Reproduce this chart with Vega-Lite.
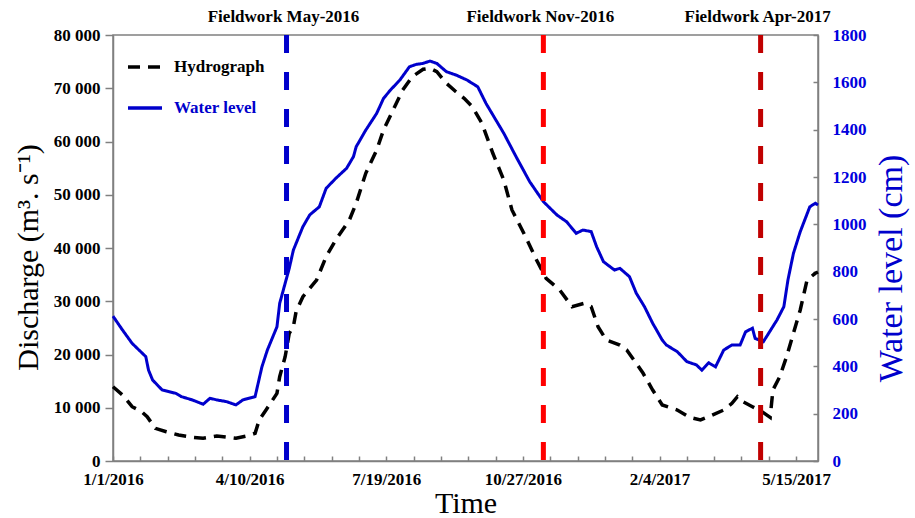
{
  "$schema": "https://vega.github.io/schema/vega-lite/v6.json",
  "width": 705,
  "height": 426,
  "autosize": "none",
  "padding": {"left": 113, "top": 35, "right": 97, "bottom": 57},
  "background": "white",
  "config": {
    "font": "Liberation Serif",
    "view": {"stroke": "#808080", "strokeWidth": 1.5},
    "axis": {"grid": false}
  },
  "datasets": {
    "discharge": [
      {"date": "2016-01-01", "q": 13950}, {"date": "2016-01-08", "q": 12400}, {"date": "2016-01-15", "q": 10200},
      {"date": "2016-01-22", "q": 9260}, {"date": "2016-01-26", "q": 8320}, {"date": "2016-02-01", "q": 6140},
      {"date": "2016-02-09", "q": 5500}, {"date": "2016-02-18", "q": 4880}, {"date": "2016-02-28", "q": 4450},
      {"date": "2016-03-07", "q": 4260}, {"date": "2016-03-17", "q": 4700}, {"date": "2016-03-31", "q": 4260},
      {"date": "2016-04-08", "q": 4700}, {"date": "2016-04-14", "q": 5200}, {"date": "2016-04-17", "q": 7700},
      {"date": "2016-04-22", "q": 9580}, {"date": "2016-04-30", "q": 12700}, {"date": "2016-05-02", "q": 15830},
      {"date": "2016-05-06", "q": 19590}, {"date": "2016-05-09", "q": 23980}, {"date": "2016-05-12", "q": 25220},
      {"date": "2016-05-14", "q": 28040}, {"date": "2016-05-19", "q": 30860}, {"date": "2016-05-29", "q": 33990},
      {"date": "2016-06-05", "q": 38370}, {"date": "2016-06-12", "q": 41500}, {"date": "2016-06-22", "q": 45260},
      {"date": "2016-06-27", "q": 48400}, {"date": "2016-07-04", "q": 54030}, {"date": "2016-07-12", "q": 58410},
      {"date": "2016-07-17", "q": 62160}, {"date": "2016-07-24", "q": 65920}, {"date": "2016-07-31", "q": 69670},
      {"date": "2016-08-07", "q": 72170}, {"date": "2016-08-15", "q": 73560}, {"date": "2016-08-20", "q": 73750},
      {"date": "2016-08-25", "q": 73110}, {"date": "2016-09-01", "q": 70930}, {"date": "2016-09-08", "q": 69350},
      {"date": "2016-09-14", "q": 68110}, {"date": "2016-09-20", "q": 66540}, {"date": "2016-09-27", "q": 63420},
      {"date": "2016-10-05", "q": 57790}, {"date": "2016-10-13", "q": 52770}, {"date": "2016-10-19", "q": 47140},
      {"date": "2016-10-29", "q": 42120}, {"date": "2016-11-06", "q": 37750}, {"date": "2016-11-13", "q": 34310},
      {"date": "2016-11-23", "q": 32110}, {"date": "2016-12-02", "q": 28980}, {"date": "2016-12-11", "q": 29620},
      {"date": "2016-12-16", "q": 28980}, {"date": "2016-12-21", "q": 25220}, {"date": "2016-12-27", "q": 22720},
      {"date": "2017-01-06", "q": 21780}, {"date": "2017-01-11", "q": 20850}, {"date": "2017-01-18", "q": 18350},
      {"date": "2017-01-23", "q": 16470}, {"date": "2017-01-30", "q": 13330}, {"date": "2017-02-06", "q": 10520},
      {"date": "2017-02-17", "q": 9580}, {"date": "2017-02-26", "q": 8200}, {"date": "2017-03-06", "q": 7700},
      {"date": "2017-03-12", "q": 8320}, {"date": "2017-03-23", "q": 9580}, {"date": "2017-03-29", "q": 10830},
      {"date": "2017-04-02", "q": 12080}, {"date": "2017-04-06", "q": 11140}, {"date": "2017-04-13", "q": 10200},
      {"date": "2017-04-20", "q": 9260}, {"date": "2017-04-26", "q": 8200}, {"date": "2017-04-28", "q": 13330},
      {"date": "2017-05-03", "q": 15830}, {"date": "2017-05-08", "q": 19590}, {"date": "2017-05-13", "q": 23980},
      {"date": "2017-05-18", "q": 28360}, {"date": "2017-05-23", "q": 33990}, {"date": "2017-05-29", "q": 35250},
      {"date": "2017-05-31", "q": 35500}
    ],
    "level": [
      {"date": "2016-01-01", "w": 612}, {"date": "2016-01-08", "w": 553}, {"date": "2016-01-15", "w": 497},
      {"date": "2016-01-20", "w": 469}, {"date": "2016-01-25", "w": 441}, {"date": "2016-01-27", "w": 384},
      {"date": "2016-01-30", "w": 342}, {"date": "2016-02-06", "w": 300}, {"date": "2016-02-16", "w": 286},
      {"date": "2016-02-20", "w": 272}, {"date": "2016-02-28", "w": 258}, {"date": "2016-03-07", "w": 240},
      {"date": "2016-03-12", "w": 265}, {"date": "2016-03-17", "w": 258}, {"date": "2016-03-24", "w": 251},
      {"date": "2016-03-31", "w": 237}, {"date": "2016-04-05", "w": 258}, {"date": "2016-04-14", "w": 272},
      {"date": "2016-04-19", "w": 398}, {"date": "2016-04-23", "w": 469}, {"date": "2016-04-30", "w": 567},
      {"date": "2016-05-02", "w": 666}, {"date": "2016-05-06", "w": 751}, {"date": "2016-05-09", "w": 814},
      {"date": "2016-05-12", "w": 891}, {"date": "2016-05-17", "w": 962}, {"date": "2016-05-19", "w": 990},
      {"date": "2016-05-24", "w": 1040}, {"date": "2016-05-31", "w": 1074}, {"date": "2016-06-05", "w": 1152},
      {"date": "2016-06-12", "w": 1194}, {"date": "2016-06-20", "w": 1237}, {"date": "2016-06-25", "w": 1286},
      {"date": "2016-06-27", "w": 1328}, {"date": "2016-07-04", "w": 1398}, {"date": "2016-07-12", "w": 1469},
      {"date": "2016-07-17", "w": 1532}, {"date": "2016-07-22", "w": 1567}, {"date": "2016-07-29", "w": 1610},
      {"date": "2016-08-05", "w": 1666}, {"date": "2016-08-10", "w": 1676}, {"date": "2016-08-15", "w": 1680},
      {"date": "2016-08-20", "w": 1690}, {"date": "2016-08-25", "w": 1680}, {"date": "2016-09-01", "w": 1645},
      {"date": "2016-09-08", "w": 1631}, {"date": "2016-09-16", "w": 1610}, {"date": "2016-09-24", "w": 1581},
      {"date": "2016-09-30", "w": 1511}, {"date": "2016-10-13", "w": 1385}, {"date": "2016-10-22", "w": 1286},
      {"date": "2016-11-01", "w": 1180}, {"date": "2016-11-11", "w": 1096}, {"date": "2016-11-21", "w": 1039},
      {"date": "2016-11-28", "w": 1011}, {"date": "2016-12-05", "w": 962}, {"date": "2016-12-10", "w": 976},
      {"date": "2016-12-16", "w": 969}, {"date": "2016-12-20", "w": 905}, {"date": "2016-12-25", "w": 842},
      {"date": "2017-01-02", "w": 807}, {"date": "2017-01-06", "w": 814}, {"date": "2017-01-13", "w": 779},
      {"date": "2017-01-18", "w": 709}, {"date": "2017-01-24", "w": 652}, {"date": "2017-01-30", "w": 582},
      {"date": "2017-02-06", "w": 511}, {"date": "2017-02-09", "w": 490}, {"date": "2017-02-17", "w": 462},
      {"date": "2017-02-24", "w": 420}, {"date": "2017-03-03", "w": 406}, {"date": "2017-03-07", "w": 384},
      {"date": "2017-03-12", "w": 415}, {"date": "2017-03-17", "w": 398}, {"date": "2017-03-23", "w": 469},
      {"date": "2017-03-29", "w": 490}, {"date": "2017-04-04", "w": 490}, {"date": "2017-04-08", "w": 546},
      {"date": "2017-04-13", "w": 561}, {"date": "2017-04-15", "w": 518}, {"date": "2017-04-21", "w": 504},
      {"date": "2017-05-01", "w": 596}, {"date": "2017-05-06", "w": 652}, {"date": "2017-05-09", "w": 765},
      {"date": "2017-05-13", "w": 877}, {"date": "2017-05-18", "w": 969}, {"date": "2017-05-25", "w": 1074},
      {"date": "2017-05-29", "w": 1089}, {"date": "2017-05-31", "w": 1082}
    ],
    "fieldwork": [
      {"date": "2016-05-07", "label": "Fieldwork May-2016"},
      {"date": "2016-11-11", "label": "Fieldwork Nov-2016"},
      {"date": "2017-04-19", "label": "Fieldwork Apr-2017"}
    ]
  },
  "encoding": {
    "x": {
      "field": "date",
      "type": "temporal",
      "scale": {
        "type": "utc",
        "domain": [
          {"year": 2016, "month": 1, "date": 1, "utc": true},
          {"year": 2017, "month": 5, "date": 31, "utc": true}
        ]
      },
      "axis": {
        "title": "Time",
        "titleFont": "Liberation Serif",
        "titleFontSize": 30,
        "titleFontWeight": "normal",
        "titleColor": "black",
        "titlePadding": 1,
        "values": [1451606400000, 1453334400000, 1455062400000, 1456790400000, 1458518400000, 1460246400000, 1461974400000, 1463702400000, 1465430400000, 1467158400000, 1468886400000, 1470614400000, 1472342400000, 1474070400000, 1475798400000, 1477526400000, 1479254400000, 1480982400000, 1482710400000, 1484438400000, 1486166400000, 1487894400000, 1489622400000, 1491350400000, 1493078400000, 1494806400000],
        "labelExpr": "(datum.value - 1451606400000) % 8640000000 == 0 ? utcFormat(datum.value, '%-m/%-d/%Y') : ''",
        "labelOverlap": false,
        "labelFlush": false,
        "labelBound": false,
        "labelFont": "Liberation Serif",
        "labelFontSize": 17,
        "labelFontWeight": "bold",
        "labelColor": "black",
        "labelPadding": 15,
        "tickSize": -5,
        "tickColor": "#808080",
        "tickWidth": 1.5,
        "domainColor": "#808080",
        "domainWidth": 1.5,
        "grid": false
      }
    }
  },
  "layer": [
    {
      "data": {"name": "discharge"},
      "mark": {"type": "line", "strokeWidth": 3.5, "strokeCap": "butt"},
      "encoding": {
        "y": {
          "field": "q",
          "type": "quantitative",
          "scale": {"domain": [0, 80000], "nice": false},
          "axis": {
            "orient": "left",
            "values": [0, 10000, 20000, 30000, 40000, 50000, 60000, 70000, 80000],
            "labelExpr": "replace(format(datum.value, ','), ',', ' ')",
            "title": "Discharge (m³. s⁻¹)",
            "titleFont": "Liberation Serif",
            "titleFontSize": 30,
            "titleFontWeight": "normal",
            "titleColor": "black",
            "titlePadding": 10,
            "titleY": 222,
            "labelFont": "Liberation Serif",
            "labelFontSize": 17,
            "labelFontWeight": "bold",
            "labelColor": "black",
            "labelPadding": 5,
            "tickSize": 8,
            "tickColor": "#808080",
            "tickWidth": 1.5,
            "domainColor": "#808080",
            "domainWidth": 1.5,
            "grid": false
          }
        },
        "color": {
          "datum": "Hydrograph",
          "type": "nominal",
          "scale": {"domain": ["Hydrograph", "Water level"], "range": ["black", "#0000CC"]},
          "legend": {
            "title": null,
            "orient": "top-left",
            "offset": 10,
            "padding": 3,
            "symbolType": "stroke",
            "symbolSize": 1156,
            "symbolStrokeWidth": 3.5,
            "labelFont": "Liberation Serif",
            "labelFontSize": 17,
            "labelFontWeight": "bold",
            "labelOffset": 10,
            "rowPadding": 14,
            "labelColor": {"expr": "datum.label == 'Water level' ? '#0000CC' : 'black'"}
          }
        },
        "strokeDash": {
          "datum": "Hydrograph",
          "type": "nominal",
          "scale": {"domain": ["Hydrograph", "Water level"], "range": [[12, 8], [1, 0]]},
          "legend": {
            "title": null,
            "orient": "top-left",
            "offset": 10,
            "padding": 3,
            "symbolType": "stroke",
            "symbolSize": 1156,
            "symbolStrokeWidth": 3.5,
            "labelFont": "Liberation Serif",
            "labelFontSize": 17,
            "labelFontWeight": "bold",
            "labelOffset": 10,
            "rowPadding": 14,
            "labelColor": {"expr": "datum.label == 'Water level' ? '#0000CC' : 'black'"}
          }
        }
      }
    },
    {
      "data": {"name": "level"},
      "mark": {"type": "line", "strokeWidth": 3},
      "encoding": {
        "y": {
          "field": "w",
          "type": "quantitative",
          "scale": {"domain": [0, 1800], "nice": false},
          "axis": {
            "orient": "right",
            "values": [0, 200, 400, 600, 800, 1000, 1200, 1400, 1600, 1800],
            "format": "d",
            "title": "Water level (cm)",
            "titleFont": "Liberation Serif",
            "titleFontSize": 34,
            "titleFontWeight": "normal",
            "titleColor": "#0000CC",
            "titleAngle": -90,
            "titleBaseline": "top",
            "titlePadding": 8,
            "titleY": 233,
            "labelFont": "Liberation Serif",
            "labelFontSize": 17,
            "labelFontWeight": "bold",
            "labelColor": "#0000DD",
            "labelPadding": 19,
            "tickSize": -5,
            "tickColor": "#808080",
            "tickWidth": 1.5,
            "domainColor": "#808080",
            "domainWidth": 1.5,
            "grid": false
          }
        },
        "color": {"datum": "Water level", "type": "nominal"},
        "strokeDash": {"datum": "Water level", "type": "nominal"}
      }
    },
    {
      "data": {"name": "fieldwork"},
      "mark": {"type": "rule", "strokeWidth": 5, "strokeDash": [18, 19], "strokeCap": "butt"},
      "encoding": {
        "stroke": {
          "field": "label",
          "type": "nominal",
          "scale": {"domain": ["Fieldwork May-2016", "Fieldwork Nov-2016", "Fieldwork Apr-2017"], "range": ["#0000CC", "#FF0000", "#C00000"]},
          "legend": null
        }
      }
    },
    {
      "data": {"name": "fieldwork"},
      "mark": {"type": "text", "font": "Liberation Serif", "fontSize": 17, "fontWeight": "bold", "baseline": "alphabetic", "dy": -13, "dx": -3, "color": "black"},
      "encoding": {
        "text": {"field": "label"},
        "y": {"datum": 80000, "type": "quantitative", "scale": {"domain": [0, 80000], "nice": false}, "axis": null}
      }
    }
  ],
  "resolve": {"scale": {"y": "independent"}}
}
